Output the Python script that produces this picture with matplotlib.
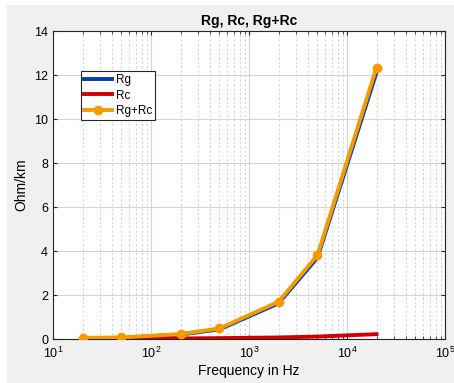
import matplotlib
matplotlib.use('Agg')
import matplotlib.pyplot as plt
import numpy as np
from matplotlib.patches import Rectangle
from matplotlib.ticker import LogLocator, NullFormatter

freq = [20, 50, 200, 500, 2000, 5000, 20000]
rc = [0.01, 0.015, 0.025, 0.04, 0.07, 0.11, 0.22]
rg = [0.04, 0.055, 0.2, 0.44, 1.62, 3.7, 12.12]
rg_rc = [a + b for a, b in zip(rg, rc)]

plt.rcParams['font.family'] = 'Liberation Sans'

W, H = 454, 383
fig = plt.figure(figsize=(W / 100, H / 100), dpi=100, facecolor='white')
fig.patches.append(Rectangle((7 / W, 0), 1 - 7 / W, 1 - 5 / H,
                             transform=fig.transFigure, color='#f0f0f0', zorder=-1))
ax = fig.add_axes([53 / W, 1 - 339 / H, (445 - 53) / W, (339 - 31) / H])
ax.set_facecolor('white')

ax.plot(freq, rg, color='#0040b0', lw=2.8, label='Rg', zorder=3)
ax.plot(freq, rc, color='#d00000', lw=2.8, label='Rc', zorder=3)
ax.plot(freq, rg_rc, color='#f59b00', lw=2.8, marker='o', ms=6,
        label='Rg+Rc', zorder=4)

ax.set_xscale('log')
ax.set_xlim(10, 1e5)
ax.set_ylim(0, 14)
ax.set_yticks(range(0, 15, 2))
ax.xaxis.set_minor_locator(LogLocator(base=10, subs=np.arange(2, 10)))
ax.xaxis.set_minor_formatter(NullFormatter())
ax.grid(True, which='major', color='#d4d4d4', lw=0.8)
ax.grid(True, which='minor', axis='x', color='#d4d4d4', lw=0.8, ls=(0, (2, 2)))
ax.tick_params(which='both', direction='in', top=True, right=True, labelsize=9,
               color='#262626')
ax.tick_params(which='major', length=3)
ax.tick_params(which='minor', length=2)
ax.tick_params(axis='x', pad=5)
for s in ax.spines.values():
    s.set_color('#262626')
    s.set_linewidth(0.8)

ax.set_title('Rg, Rc, Rg+Rc', fontsize=10, fontweight='bold', pad=4)
ax.set_xlabel('Frequency in Hz', fontsize=10, labelpad=2)
ax.set_ylabel('Ohm/km', fontsize=10)

leg = ax.legend(loc='upper left', bbox_to_anchor=(0.071, 0.87), fontsize=8.5,
                fancybox=False, framealpha=1, edgecolor='#262626',
                handlelength=2.4, borderpad=0.25, labelspacing=0.3,
                handletextpad=0.3, borderaxespad=0)
leg.get_frame().set_linewidth(0.8)

fig.savefig('out.png', dpi=100, facecolor=fig.get_facecolor())
